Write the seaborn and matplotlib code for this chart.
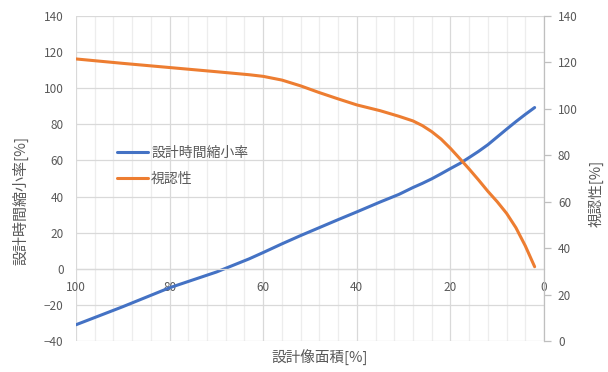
import matplotlib
matplotlib.use("Agg")
import matplotlib.pyplot as plt
from matplotlib.ticker import MultipleLocator
import seaborn as sns
import pandas as pd

# Design image area [%] (x axis runs from 100 down to 0)
area = [100, 90, 80, 70, 63, 60, 56, 52, 48, 44, 40, 35, 31, 28, 26, 24, 22, 20,
        18, 16, 14, 12, 10, 8, 6, 4, 2]
# Design time reduction rate [%] (left axis)
time_reduction = [-31, -21, -10.5, -1.8, 5.5, 9, 13.8, 18.4, 22.8, 27.2, 31.5, 37, 41.2,
                  45, 47.3, 49.8, 52.6, 55.5, 58.3, 61.6, 65, 68.7, 73, 77.3, 81.5, 85.5, 89.3]
# Visibility [%] (right axis)
visibility = [121.5, 119.6, 117.8, 116, 114.7, 114, 112.4, 109.9, 107, 104.3, 101.7, 99.2,
              96.8, 94.8, 92.8, 90.2, 87, 83, 78.6, 74.1, 69.4, 64.5, 60, 55, 48.8,
              41, 32]

series_names = ["設計時間縮小率", "視認性"]
x_label = "設計像面積[%]"
left_label = "設計時間縮小率[%]"
right_label = "視認性[%]"

BLUE = "#4472C4"
ORANGE = "#ED7D31"
TEXT = "#595959"
GRID = "#D9D9D9"
MINOR = "#EDEDED"

sns.set_theme(style="white")
plt.rcParams["font.family"] = ["Noto Sans CJK JP", "DejaVu Sans"]

df = pd.DataFrame({"area": area, "time": time_reduction, "vis": visibility})

fig = plt.figure(figsize=(6.08, 3.72), dpi=100)
ax = fig.add_axes([76 / 608, 31 / 372, 468 / 608, 325 / 372])
ax2 = ax.twinx()

sns.lineplot(data=df, x="area", y="time", ax=ax, color=BLUE, lw=2.2, legend=False)
sns.lineplot(data=df, x="area", y="vis", ax=ax2, color=ORANGE, lw=2.2, legend=False)

ax.set_xlim(100, 0)
ax.set_ylim(-40, 140)
ax2.set_ylim(0, 140)

ax.xaxis.set_major_locator(MultipleLocator(20))
ax.xaxis.set_minor_locator(MultipleLocator(4))
ax.yaxis.set_major_locator(MultipleLocator(20))
ax2.yaxis.set_major_locator(MultipleLocator(20))

ax.grid(False)
ax2.grid(False)
ax.set_axisbelow(True)
ax.grid(which="minor", axis="x", color=MINOR, lw=0.9)
ax.grid(which="major", axis="x", color=GRID, lw=0.9)
ax.grid(which="major", axis="y", color=GRID, lw=0.9)

for side in ["top", "left", "right"]:
    ax.spines[side].set_visible(False)
ax.spines["bottom"].set_position(("data", 0))
ax.spines["bottom"].set_color(GRID)
ax.spines["bottom"].set_linewidth(0.9)
for side in ["top", "left", "bottom"]:
    ax2.spines[side].set_visible(False)
ax2.spines["right"].set_color("#BFBFBF")
ax2.spines["right"].set_linewidth(0.9)

ax.tick_params(axis="x", which="both", length=0, pad=9, labelsize=8.5, labelcolor=TEXT)
ax.tick_params(axis="y", length=0, pad=9, labelsize=8.5, labelcolor=TEXT)
ax2.tick_params(axis="y", length=5, width=0.9, color="#BFBFBF", direction="out", pad=5,
                labelsize=8.5, labelcolor=TEXT)

ax.set_xlabel(x_label, fontsize=10.5, color=TEXT)
ax.set_ylabel(left_label, fontsize=10.8, color=TEXT)
ax2.set_ylabel(right_label, fontsize=10.5, color=TEXT, rotation=90)
ax.xaxis.set_label_coords((320 - 76) / 468, (341 - 350) / 325)
ax.yaxis.set_label_coords((28 - 76) / 468, (341 - 200) / 325)
ax2.yaxis.set_label_coords((589 - 76) / 468, (341 - 193) / 325)

handles = [ax.get_lines()[0], ax2.get_lines()[0]]
leg = ax2.legend(handles, series_names, loc="center left",
                 bbox_to_anchor=((117 - 76) / 468, (341 - 166) / 325),
                 frameon=False, fontsize=10, handlelength=2.2, handletextpad=0.25,
                 labelspacing=0.9, borderpad=0, borderaxespad=0)
for t in leg.get_texts():
    t.set_color(TEXT)

fig.savefig("out.png", dpi=100, facecolor="white")
